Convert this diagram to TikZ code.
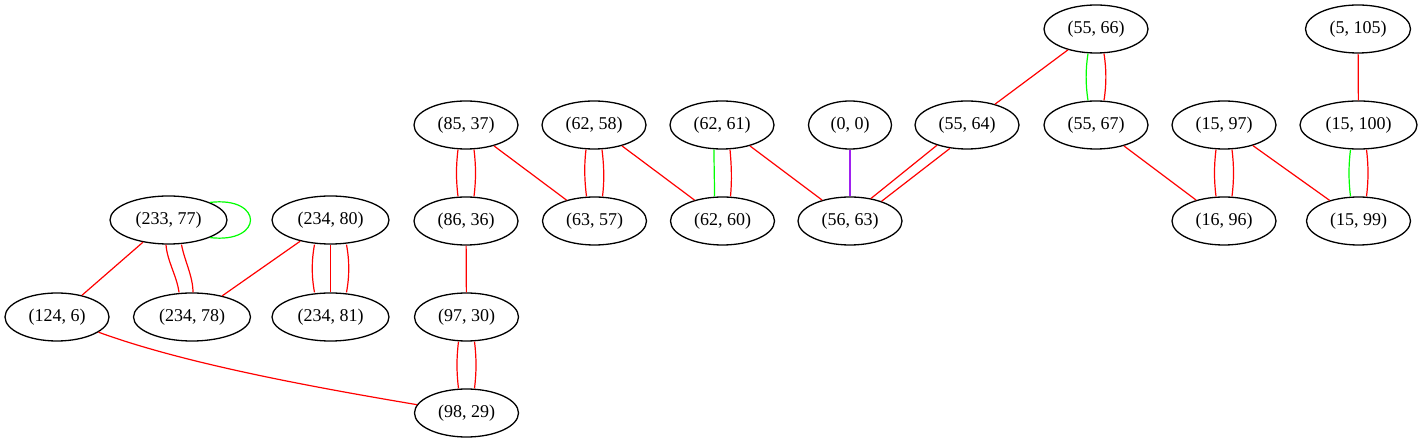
\documentclass[tikz,border=0pt]{standalone}
\usepackage{fontspec}
\setmainfont{Liberation Serif}
\usetikzlibrary{shapes.geometric}
\definecolor{gvred}{RGB}{255,0,0}
\definecolor{gvgreen}{RGB}{0,255,0}
\definecolor{gvpurple}{RGB}{160,32,240}
\tikzset{
  gnode/.style={ellipse, draw=black, line width=1.3pt, inner sep=0pt,
    minimum width=104pt, minimum height=48pt,
    font=\fontsize{18}{21}\selectfont},
  wide/.style={minimum width=117pt},
  re/.style={draw=gvred, line width=1.2pt},
  ge/.style={draw=gvgreen, line width=1.2pt},
  pe/.style={draw=gvpurple, line width=1.2pt}
}
\begin{document}
\begin{tikzpicture}[x=1pt,y=-1pt]
\useasboundingbox (0,0) rectangle (1422,443);
% row 1
\node[gnode] (n5566) at (1096,29) {(55, 66)};
\node[gnode, minimum width=105pt] (n5105) at (1358,29) {(5, 105)};
% row 2
\node[gnode] (n8537) at (466,125) {(85, 37)};
\node[gnode] (n6258) at (594,125) {(62, 58)};
\node[gnode] (n6261) at (722,125) {(62, 61)};
\node[gnode, minimum width=83pt] (n00) at (850,125) {(0, 0)};
\node[gnode] (n5564) at (967,125) {(55, 64)};
\node[gnode] (n5567) at (1096,125) {(55, 67)};
\node[gnode] (n1597) at (1224,125) {(15, 97)};
\node[gnode, wide] (n15100) at (1358.5,125) {(15, 100)};
% row 3
\node[gnode, wide] (n23377) at (168.5,220) {(233, 77)};
\node[gnode, wide] (n23480) at (330.5,220) {(234, 80)};
\node[gnode] (n8636) at (466,221) {(86, 36)};
\node[gnode] (n6357) at (594.5,221) {(63, 57)};
\node[gnode] (n6260) at (722.5,221) {(62, 60)};
\node[gnode] (n5663) at (850,221) {(56, 63)};
\node[gnode] (n1696) at (1224,221) {(16, 96)};
\node[gnode] (n1599) at (1358.5,221) {(15, 99)};
% row 4
\node[gnode] (n1246) at (57,317) {(124, 6)};
\node[gnode, wide] (n23478) at (192,317) {(234, 78)};
\node[gnode, wide] (n23481) at (330.5,317) {(234, 81)};
\node[gnode] (n9730) at (466.5,317) {(97, 30)};
% row 5
\node[gnode] (n9829) at (466.5,413) {(98, 29)};

% ---- edges ----
% (55,66)
\draw[re] (n5566) -- (n5564);
\draw[ge] ([xshift=-8pt]n5566.south) .. controls +(-2.5,16) and +(-2.5,-16) .. ([xshift=-8pt]n5567.north);
\draw[re] ([xshift=8pt]n5566.south) .. controls +(2.5,16) and +(2.5,-16) .. ([xshift=8pt]n5567.north);
% (5,105)
\draw[re] (n5105) -- (n15100);
% (15,100)-(15,99)
\draw[ge] ([xshift=-8pt]n15100.south) .. controls +(-2,16) and +(-2,-16) .. ([xshift=-8pt]n1599.north);
\draw[re] ([xshift=8pt]n15100.south) .. controls +(2,16) and +(2,-16) .. ([xshift=8pt]n1599.north);
% (15,97)
\draw[re] ([xshift=-8pt]n1597.south) .. controls +(-2,16) and +(-2,-16) .. ([xshift=-8pt]n1696.north);
\draw[re] ([xshift=8pt]n1597.south) .. controls +(2,16) and +(2,-16) .. ([xshift=8pt]n1696.north);
\draw[re] (n1597) -- (n1599);
% (55,67)
\draw[re] (n5567) -- (n1696);
% (55,64)-(56,63)
\draw[re] (n5564.214) -- (n5663.47);
\draw[re] (n5564.234) -- (n5663.32);
% (0,0)
\draw[pe] (n00) -- (n5663);
% (62,61)
\draw[ge] ([xshift=-8pt]n6261.south) .. controls +(0,16) and +(0,-16) .. ([xshift=-8pt]n6260.north);
\draw[re] ([xshift=8pt]n6261.south) .. controls +(1.5,16) and +(1.5,-16) .. ([xshift=8pt]n6260.north);
\draw[re] (n6261) -- (n5663);
% (62,58)
\draw[re] ([xshift=-8pt]n6258.south) .. controls +(-2,16) and +(-2,-16) .. ([xshift=-8pt]n6357.north);
\draw[re] ([xshift=8pt]n6258.south) .. controls +(2,16) and +(2,-16) .. ([xshift=8pt]n6357.north);
\draw[re] (n6258) -- (n6260);
% (85,37)
\draw[re] ([xshift=-8pt]n8537.south) .. controls +(-2,16) and +(-2,-16) .. ([xshift=-8pt]n8636.north);
\draw[re] ([xshift=8pt]n8537.south) .. controls +(2,16) and +(2,-16) .. ([xshift=8pt]n8636.north);
\draw[re] (n8537) -- (n6357);
% (86,36)
\draw[re] (n8636) -- (n9730);
% (97,30)-(98,29)
\draw[re] ([xshift=-8pt]n9730.south) .. controls +(-2,16) and +(-2,-16) .. ([xshift=-8pt]n9829.north);
\draw[re] ([xshift=8pt]n9730.south) .. controls +(2,16) and +(2,-16) .. ([xshift=8pt]n9829.north);
% (124,6)-(98,29)
\draw[re] (n1246) .. controls (180,362) and (300,385) .. (n9829);
% (233,77)
\draw[re] (n23377) -- (n1246);
\draw[re] ([xshift=-2.5pt]n23377.south) .. controls +(1,16) and +(-2,-16) .. ([xshift=-13pt]n23478.north);
\draw[re] ([xshift=13pt]n23377.south) .. controls +(3,16) and +(0,-16) .. ([xshift=1pt]n23478.north);
\draw[gvgreen, line width=1.2pt] (n23377.23) .. controls (264,196) and (264,244) .. (n23377.-23);
% (234,80)
\draw[re] (n23480) -- (n23478);
\draw[re] ([xshift=-16pt]n23480.south) .. controls +(-3,16) and +(-3,-16) .. ([xshift=-16pt]n23481.north);
\draw[re] (n23480.south) -- (n23481.north);
\draw[re] ([xshift=16pt]n23480.south) .. controls +(3,16) and +(3,-16) .. ([xshift=16pt]n23481.north);
\end{tikzpicture}
\end{document}
